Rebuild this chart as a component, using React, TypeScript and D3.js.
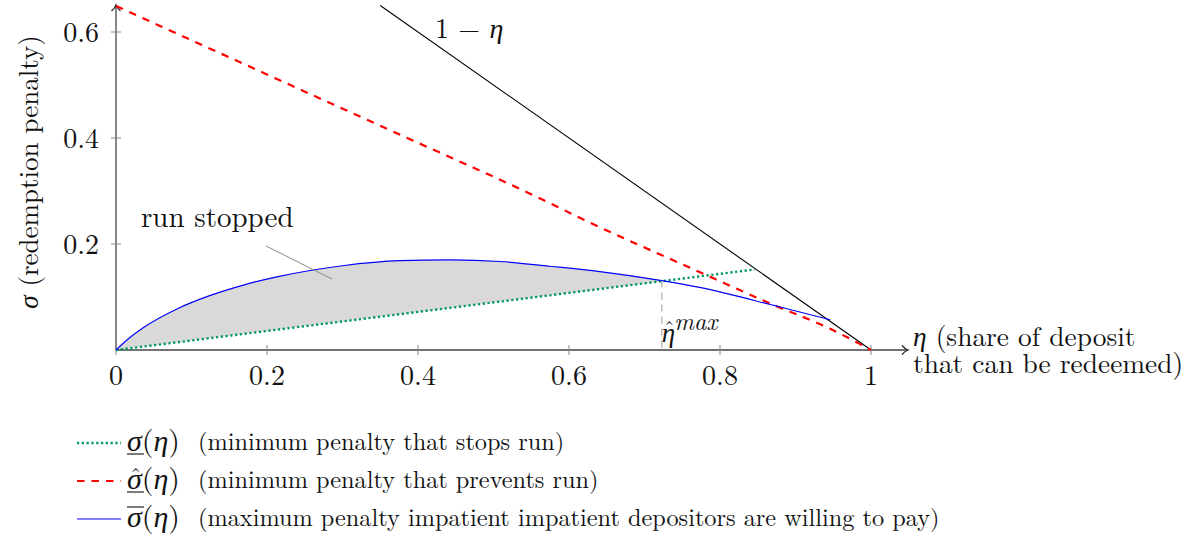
import * as d3 from "d3";

// values
const xTicks = [0, 0.2, 0.4, 0.6, 0.8, 1];
const xTickLabels = ["0", "0.2", "0.4", "0.6", "0.8", "1"];
const yTicks = [0.2, 0.4, 0.6];
const yTickLabels = ["0.2", "0.4", "0.6"];

// sigma-bar (blue, maximum penalty)
const etaBlue = [0, 0.018, 0.036, 0.08, 0.125, 0.17, 0.213, 0.257, 0.3, 0.376, 0.442, 0.509, 0.575, 0.641, 0.723, 0.773, 0.877, 0.946];
const sigmaBlue = [0, 0.023, 0.042, 0.077, 0.103, 0.123, 0.138, 0.15, 0.159, 0.1685, 0.17, 0.167, 0.158, 0.148, 0.131, 0.118, 0.082, 0.057];

// sigma-hat (red dashed)
const etaRed = [0, 0.35, 0.566, 0.621, 0.769, 0.866, 0.946, 1];
const sigmaRed = [0.649, 0.423, 0.283, 0.245, 0.1496, 0.088, 0.04, 0];

// sigma-underline (green dotted)
const etaGreen = [0, 0.846];
const sigmaGreen = [0, 0.152];

// 1 - eta (black)
const etaBlack = [0.35, 1];
const sigmaBlack = [0.65, 0];

const etaHatMax = 0.723;

const legendTexts = [
  "(minimum penalty that stops run)",
  "(minimum penalty that prevents run)",
  "(maximum penalty impatient impatient depositors are willing to pay)",
];

const SERIF = "'Latin Modern Roman', 'CMU Serif', 'Liberation Serif', serif";

const App = () => {
  const width = 1199;
  const height = 539;

  const x = d3.scaleLinear().domain([0, 1]).range([116, 871]);
  const y = d3.scaleLinear().domain([0, 0.6]).range([350, 32]);

  const line = d3
    .line<[number, number]>()
    .x((d) => x(d[0]))
    .y((d) => y(d[1]));
  const smooth = d3
    .line<[number, number]>()
    .x((d) => x(d[0]))
    .y((d) => y(d[1]))
    .curve(d3.curveMonotoneX);

  const zip = (a: number[], b: number[]) => a.map((v, i) => [v, b[i]] as [number, number]);

  const blue = zip(etaBlue, sigmaBlue);
  const red = zip(etaRed, sigmaRed);
  const green = zip(etaGreen, sigmaGreen);
  const black = zip(etaBlack, sigmaBlack);

  // green is a straight line: interpolate it for the shaded region
  const greenAt = d3.scaleLinear().domain(etaGreen).range(sigmaGreen);
  const blueAt = d3.scaleLinear().domain(etaBlue).range(sigmaBlue);
  const fillPts = blue.filter((d) => d[0] <= etaHatMax);
  const area = d3
    .area<[number, number]>()
    .x((d) => x(d[0]))
    .y0((d) => y(greenAt(d[0])))
    .y1((d) => y(d[1]))
    .curve(d3.curveMonotoneX);

  const x0 = x(0);
  const y0 = y(0);
  const xEnd = 908;
  const yEnd = 5;

  const legendRows = [
    { y: 443, kind: "green", deco: "under", hat: false, text: legendTexts[0] },
    { y: 481, kind: "red", deco: "under", hat: true, text: legendTexts[1] },
    { y: 519, kind: "blue", deco: "over", hat: false, text: legendTexts[2] },
  ];

  const styleFor = (kind: string) => {
    if (kind === "green") return { stroke: "#00995c", strokeWidth: 2.4, strokeDasharray: "2.2 2.6" };
    if (kind === "red") return { stroke: "#ff0000", strokeWidth: 2.2, strokeDasharray: "7.5 7" };
    return { stroke: "#0000ff", strokeWidth: 1.2, strokeDasharray: undefined };
  };

  const hx = x(etaHatMax);
  const lx = 77; // legend sample start
  const sx = 127; // legend symbol start

  return (
    <svg
      width={width}
      height={height}
      style={{ position: "absolute", left: 0, top: 0, background: "#fff" }}
      fontFamily={SERIF}
    >
      {/* shaded "run stopped" region */}
      <path d={area(fillPts) || ""} fill="#d9d9d9" stroke="none" />

      {/* axes */}
      <line x1={x0} y1={y0} x2={xEnd} y2={y0} stroke="#444" strokeWidth={1.3} />
      <line x1={x0} y1={y0} x2={x0} y2={yEnd} stroke="#444" strokeWidth={1.3} />
      <path
        d={`M${xEnd - 6},${y0 - 4.5} Q${xEnd - 3},${y0 - 1} ${xEnd},${y0} Q${xEnd - 3},${y0 + 1} ${xEnd - 6},${y0 + 4.5}`}
        fill="none"
        stroke="#222"
        strokeWidth={1.2}
      />
      <path
        d={`M${x0 - 4.5},${yEnd + 6} Q${x0 - 1},${yEnd + 3} ${x0},${yEnd} Q${x0 + 1},${yEnd + 3} ${x0 + 4.5},${yEnd + 6}`}
        fill="none"
        stroke="#222"
        strokeWidth={1.2}
      />

      {xTicks.map((t, i) => (
        <g key={"xt" + i}>
          <line x1={x(t)} x2={x(t)} y1={y0 - 5} y2={y0 + 5} stroke="#888" strokeWidth={1} />
          <text x={x(t)} y={y0 + 35} textAnchor="middle" fontSize={28} fill="#111">
            {xTickLabels[i]}
          </text>
        </g>
      ))}
      {yTicks.map((t, i) => (
        <g key={"yt" + i}>
          <line x1={x0 - 5} x2={x0 + 5} y1={y(t)} y2={y(t)} stroke="#888" strokeWidth={1} />
          <text x={x0 - 17} y={y(t) + 10} textAnchor="end" fontSize={28} fill="#111">
            {yTickLabels[i]}
          </text>
        </g>
      ))}

      {/* curves */}
      <path d={line(black) || ""} fill="none" stroke="#000" strokeWidth={1.1} />
      <path d={line(green) || ""} fill="none" {...styleFor("green")} />
      <path d={smooth(red) || ""} fill="none" {...styleFor("red")} />
      <path d={smooth(blue) || ""} fill="none" {...styleFor("blue")} />

      {/* eta-hat max marker */}
      <line
        x1={hx}
        x2={hx}
        y1={y(blueAt(etaHatMax))}
        y2={y0}
        stroke="#999"
        strokeWidth={1}
        strokeDasharray="7 5"
      />
      <text x={hx} y={y0 - 8} fontStyle="italic" fill="#111">
        <tspan fontSize={27}>η</tspan>
        <tspan fontSize={24} dy={-12} dx={-1}>max</tspan>
      </text>
      <text x={hx + 2} y={y0 - 14} fontSize={22} fill="#111">ˆ</text>

      {/* annotations */}
      <text x={435} y={38} fontSize={28} fill="#111">
        1 − <tspan fontStyle="italic">η</tspan>
      </text>
      <text x={141} y={227} fontSize={29} fill="#111">
        run stopped
      </text>
      <line x1={266} y1={246} x2={332} y2={279} stroke="#888" strokeWidth={1} />

      {/* axis labels */}
      <text fontSize={27.4} fill="#111">
        <tspan x={913} y={346}>
          <tspan fontStyle="italic">η</tspan> (share of deposit
        </tspan>
        <tspan x={913} y={373}>that can be redeemed)</tspan>
      </text>
      <text transform="translate(38,172) rotate(-90)" textAnchor="middle" fontSize={27} fill="#111">
        <tspan fontStyle="italic">σ</tspan> (redemption penalty)
      </text>

      {/* legend */}
      {legendRows.map((r) => (
        <g key={r.kind}>
          <line x1={lx} x2={lx + 44} y1={r.y} y2={r.y} {...styleFor(r.kind)} />
          <text x={sx} y={r.y + 8} fontSize={30} fill="#111">
            <tspan fontStyle="italic">σ</tspan>(<tspan fontStyle="italic">η</tspan>)
          </text>
          {r.hat ? (
            <text x={sx + 3} y={r.y + 3} fontSize={23} fill="#111">ˆ</text>
          ) : null}
          <line
            x1={sx}
            x2={sx + 17}
            y1={r.deco === "under" ? r.y + 11 : r.y - 12}
            y2={r.deco === "under" ? r.y + 11 : r.y - 12}
            stroke="#111"
            strokeWidth={1.1}
          />
          <text x={198} y={r.y + 7} fontSize={24.3} fill="#111">
            {r.text}
          </text>
        </g>
      ))}
    </svg>
  );
};

export default App;
